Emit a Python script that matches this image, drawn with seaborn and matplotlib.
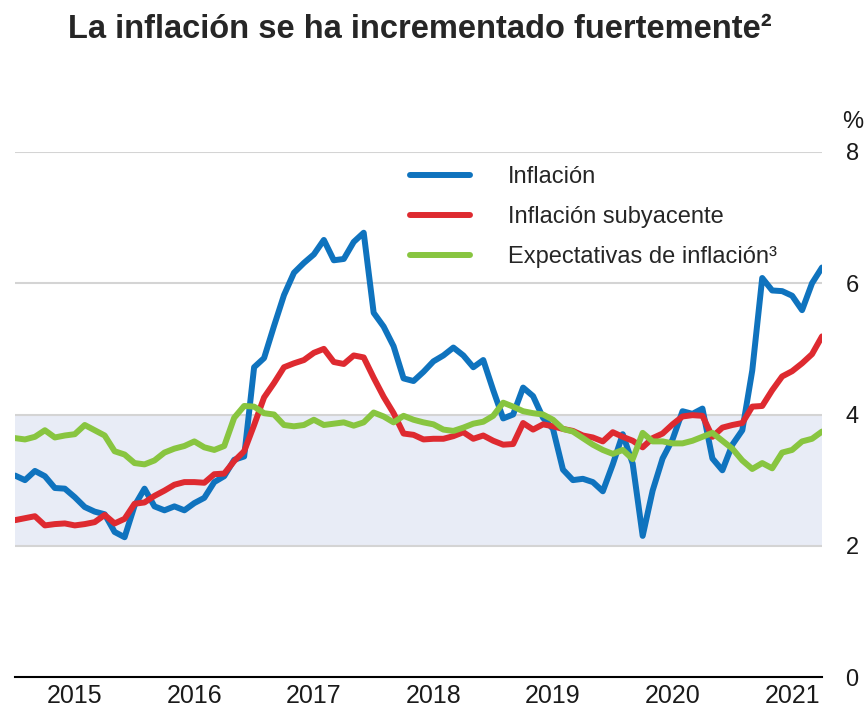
import numpy as np
import pandas as pd
import matplotlib.pyplot as plt
import matplotlib.ticker as mticker
import seaborn as sns

# datos mensuales, ene-2015 a oct-2021 (% anual)
inflacion = [3.07, 3.00, 3.14, 3.06, 2.88, 2.87, 2.74, 2.59, 2.52, 2.48, 2.21, 2.13,
             2.61, 2.87, 2.60, 2.54, 2.60, 2.54, 2.65, 2.73, 2.97, 3.06, 3.31, 3.36,
             4.72, 4.86, 5.35, 5.82, 6.16, 6.31, 6.44, 6.66, 6.35, 6.37, 6.63, 6.77,
             5.55, 5.34, 5.04, 4.55, 4.51, 4.65, 4.81, 4.90, 5.02, 4.90, 4.72, 4.83,
             4.37, 3.94, 4.00, 4.41, 4.28, 3.95, 3.78, 3.16, 3.00, 3.02, 2.97, 2.83,
             3.24, 3.70, 3.25, 2.15, 2.84, 3.33, 3.62, 4.05, 4.01, 4.09, 3.33, 3.15,
             3.54, 3.76, 4.67, 6.08, 5.89, 5.88, 5.81, 5.59, 6.00, 6.24]

subyacente = [2.39, 2.42, 2.45, 2.31, 2.33, 2.34, 2.31, 2.33, 2.36, 2.47, 2.34, 2.41,
              2.64, 2.66, 2.76, 2.84, 2.93, 2.97, 2.97, 2.96, 3.09, 3.10, 3.29, 3.44,
              3.84, 4.26, 4.48, 4.72, 4.78, 4.83, 4.94, 5.00, 4.80, 4.77, 4.90, 4.87,
              4.56, 4.27, 4.02, 3.71, 3.69, 3.62, 3.63, 3.63, 3.67, 3.73, 3.63, 3.68,
              3.60, 3.54, 3.55, 3.87, 3.77, 3.85, 3.82, 3.78, 3.75, 3.68, 3.65, 3.59,
              3.73, 3.66, 3.60, 3.50, 3.64, 3.71, 3.85, 3.97, 3.99, 3.98, 3.66, 3.80,
              3.84, 3.87, 4.12, 4.13, 4.37, 4.58, 4.66, 4.78, 4.92, 5.19]

expectativas = [3.64, 3.62, 3.66, 3.76, 3.65, 3.68, 3.70, 3.84, 3.76, 3.68, 3.44, 3.39,
                3.26, 3.24, 3.30, 3.42, 3.48, 3.52, 3.59, 3.50, 3.46, 3.52, 3.95, 4.13,
                4.12, 4.02, 4.00, 3.84, 3.82, 3.84, 3.92, 3.84, 3.86, 3.88, 3.83, 3.88,
                4.03, 3.97, 3.88, 3.98, 3.92, 3.88, 3.85, 3.77, 3.75, 3.80, 3.86, 3.89,
                3.98, 4.18, 4.12, 4.05, 4.02, 4.00, 3.92, 3.78, 3.74, 3.64, 3.54, 3.46,
                3.40, 3.46, 3.32, 3.72, 3.59, 3.59, 3.56, 3.56, 3.60, 3.66, 3.72, 3.60,
                3.48, 3.30, 3.17, 3.26, 3.18, 3.42, 3.46, 3.59, 3.63, 3.74]

series = ['Inflación', 'Inflación subyacente', 'Expectativas de inflación³']
colores = {'Inflación': '#0F73BE', 'Inflación subyacente': '#DE2A30',
           'Expectativas de inflación³': '#88C540'}
anios = [2015, 2016, 2017, 2018, 2019, 2020, 2021]
yticks = [0, 2, 4, 6, 8]

fechas = pd.date_range('2015-01-01', periods=len(inflacion), freq='MS')
t = fechas.year + (fechas.month - 1) / 12

df = pd.DataFrame({'t': t, series[0]: inflacion, series[1]: subyacente, series[2]: expectativas})
df_long = df.melt(id_vars='t', var_name='serie', value_name='valor')

sns.set_style('white')
plt.rcParams['font.family'] = ['Liberation Sans', 'DejaVu Sans']

fig = plt.figure(figsize=(8.68, 7.12), dpi=100)
ax = fig.add_axes([15/868, 35/712, 807/868, 525/712])

ax.axhspan(2, 4, color='#E8ECF6', lw=0, zorder=0)
for g in yticks[1:]:
    ax.axhline(g, color='#D4D4D4', lw=1.5, zorder=1)

sns.lineplot(data=df_long, x='t', y='valor', hue='serie', hue_order=series,
             palette=colores, linewidth=4.3, ax=ax, zorder=3)

h, l = ax.get_legend_handles_labels()
for hh in h:
    hh.set_linewidth(4.3)
ax.legend(h, l, loc='upper left', bbox_to_anchor=(0.489, 0.973), frameon=False,
          fontsize=17, handlelength=2.55, handletextpad=1.6, labelspacing=0.76,
          borderpad=0, borderaxespad=0)

ax.set_xlim(2015, 2021.75)
ax.set_ylim(0, 8)
ax.set_xlabel('')
ax.set_ylabel('')

for s in ['left', 'top', 'right']:
    ax.spines[s].set_visible(False)
ax.spines['bottom'].set_color('black')
ax.spines['bottom'].set_linewidth(1.5)

ax.xaxis.set_major_locator(mticker.FixedLocator(anios))
ax.xaxis.set_major_formatter(mticker.NullFormatter())
ax.xaxis.set_minor_locator(mticker.FixedLocator([a + 0.5 for a in anios]))
ax.xaxis.set_minor_formatter(mticker.FixedFormatter([str(a) for a in anios]))
ax.tick_params(axis='x', which='major', direction='in', length=9, width=1.3, color='black')
ax.tick_params(axis='x', which='minor', length=0, labelsize=18, pad=5, labelcolor='#1a1a1a')

ax.yaxis.tick_right()
ax.set_yticks(yticks)
ax.tick_params(axis='y', length=0, labelsize=17, pad=17, labelcolor='#1a1a1a')

ax.text(1 + 20/807, (677 - 122)/525, '%', transform=ax.transAxes, ha='left',
        va='center', fontsize=17, color='#1a1a1a')

fig.text(420/868, 1 - 30/712, 'La inflación se ha incrementado fuertemente²',
         ha='center', va='center', fontsize=23.5, fontweight='bold')

fig.savefig('out.png', dpi=100)
